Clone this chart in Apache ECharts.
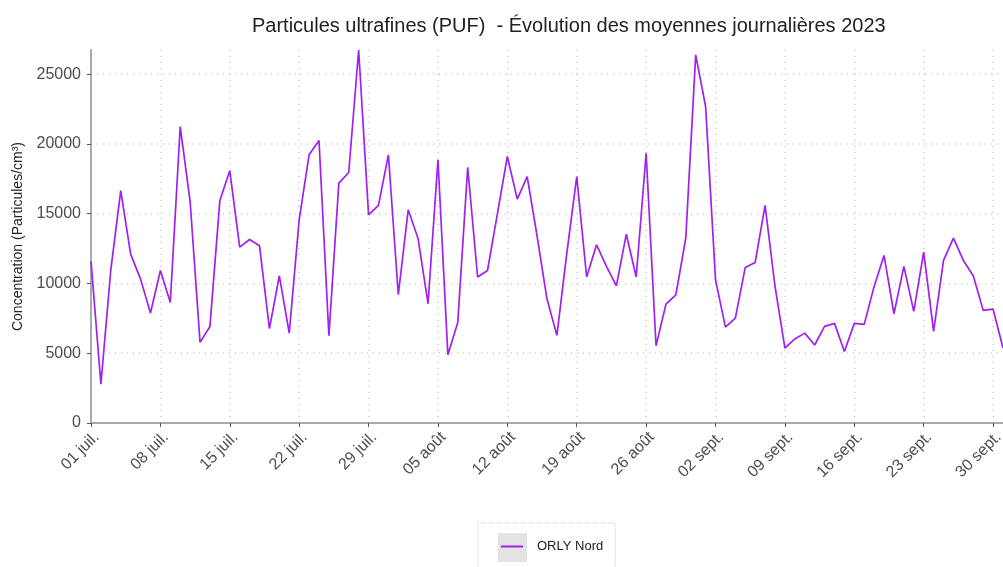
<!DOCTYPE html>
<html>
<head>
<meta charset="utf-8">
<script src="https://cdn.jsdelivr.net/npm/echarts@6/dist/echarts.min.js"></script>
<style>
  html, body { margin: 0; padding: 0; background: #fff; }
  #chart { width: 1003px; height: 567px; }
</style>
</head>
<body>
<div id="chart"></div>
<script>
// daily averages, 01 juil. -> 01 oct. 2023
const monthNames = ['juil.', 'août', 'sept.', 'oct.'];
const monthLengths = [31, 31, 30, 1];

const orlyNord = [
  11600, 2790, 10980, 16660, 12100, 10310, 7880, 10930, 8640, 21240,
  15870, 5780, 6920, 15950, 18070, 12600, 13150, 12700, 6760, 10550,
  6440, 14560, 19220, 20240, 6250, 17190, 17950, 26730, 14920, 15590,
  19220, 9190, 15280, 13200, 8550, 18860, 4890, 7210, 18330, 10460,
  10930, 15000, 19100, 16040, 17660, 13400, 8880, 6280, 12170, 17660,
  10460, 12770, 11220, 9830, 13530, 10460, 19330, 5540, 8520, 9190,
  13250, 26380, 22680, 10260, 6870, 7520, 11150, 11510, 15590, 9800,
  5370, 6020, 6440, 5590, 6920, 7140, 5130, 7140, 7070, 9790,
  12010, 7830, 11220, 8000, 12250, 6560, 11650, 13250, 11650, 10550,
  8070, 8160, 5370
];

const days = [];
monthNames.forEach((m, i) => {
  for (let d = 1; d <= monthLengths[i]; d++) {
    days.push((d < 10 ? '0' : '') + d + ' ' + m);
  }
});

const chart = echarts.init(document.getElementById('chart'));

const gridLine = {
  show: true,
  lineStyle: { color: '#c8c8c8', type: [1, 5], width: 1.5 }
};

chart.setOption({
  backgroundColor: '#fff',
  animation: false,
  textStyle: { fontFamily: 'Liberation Sans, Arial, sans-serif' },
  title: {
    text: 'Particules ultrafines (PUF)  - Évolution des moyennes journalières 2023',
    left: 247,
    top: 11,
    textStyle: { fontSize: 20, fontWeight: 'normal', color: '#222' }
  },
  grid: { left: 91, right: 0, top: 50, bottom: 144, outerBoundsMode: 'none' },
  xAxis: {
    type: 'category',
    data: days,
    boundaryGap: false,
    axisLine: { lineStyle: { color: '#aaa', width: 2 } },
    axisTick: { interval: 6, length: 4, lineStyle: { color: '#555' } },
    axisLabel: {
      interval: 6, rotate: 45, fontSize: 16, color: '#4d4d4d', margin: 6,
      align: 'right', verticalAlign: 'top'
    },
    splitLine: Object.assign({ interval: 6 }, gridLine)
  },
  yAxis: {
    type: 'value',
    min: 0,
    max: 26730,
    interval: 5000,
    name: 'Concentration (Particules/cm³)',
    nameLocation: 'middle',
    nameGap: 62,
    nameTextStyle: { fontSize: 14, color: '#222' },
    axisLine: { show: true, lineStyle: { color: '#aaa', width: 2 } },
    axisTick: { show: true, length: 4, lineStyle: { color: '#555' } },
    axisLabel: {
      fontSize: 16, color: '#4d4d4d', margin: 10, showMaxLabel: false,
      formatter: v => String(v)
    },
    splitLine: Object.assign({ showMinLine: false, showMaxLine: false }, gridLine)
  },
  legend: {
    left: 478,
    top: 523,
    padding: [17, 12, 17, 23],
    borderColor: '#ccc',
    borderWidth: 1,
    borderType: 'dotted',
    icon: 'rect',
    itemWidth: 22,
    itemHeight: 2,
    textStyle: { fontSize: 13, color: '#222', padding: [0, 0, 0, 9] },
    data: ['ORLY Nord']
  },
  graphic: [{
    type: 'rect',
    z: -1,
    shape: { x: 498, y: 533, width: 29, height: 29 },
    style: { fill: '#e3e3e3' }
  }],
  series: [{
    name: 'ORLY Nord',
    type: 'line',
    data: orlyNord,
    symbol: 'none',
    lineStyle: { color: '#A020F0', width: 1.7 },
    itemStyle: { color: '#A020F0' }
  }]
});
</script>
</body>
</html>
